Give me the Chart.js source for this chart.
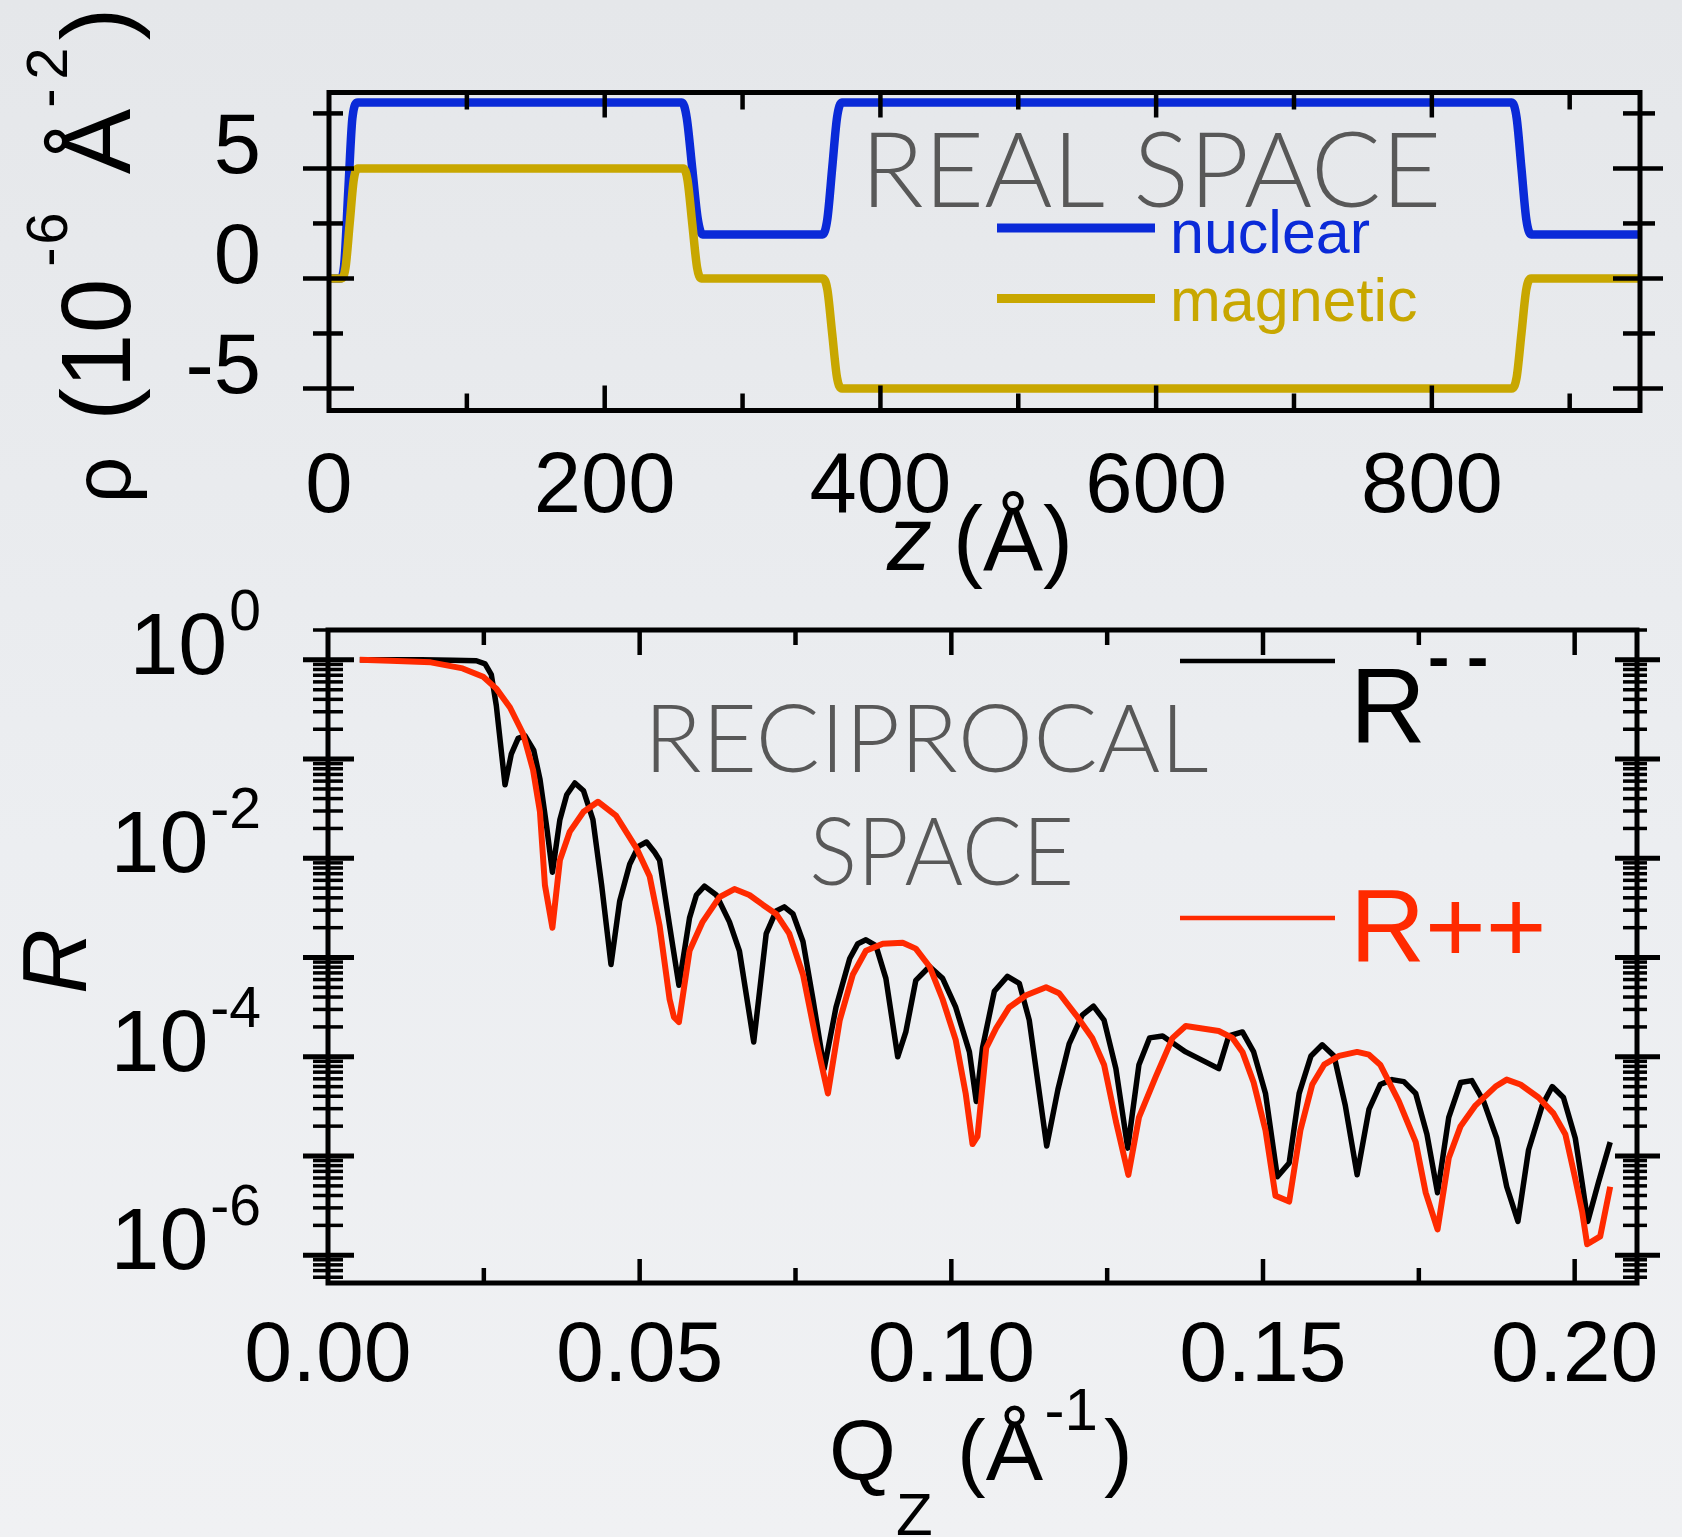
<!DOCTYPE html>
<html><head><meta charset="utf-8">
<script src="https://cdn.jsdelivr.net/npm/chart.js@4.4.1/dist/chart.umd.min.js"></script>
<style>
html,body{margin:0;padding:0;}
body{width:1682px;height:1537px;overflow:hidden;position:relative;
 background:linear-gradient(180deg,#e5e7ea 0%,#eceef1 55%,#f0f1f3 100%);}
canvas{position:absolute;left:0;top:0;}
</style></head><body>
<canvas id="c1" width="1682" height="1537"></canvas>
<canvas id="c2" width="1682" height="1537"></canvas>
<script>
// ---------- Real space (top panel) ----------
const zNuclear   = [0, 8, 11, 14, 17, 21, 256, 259.5, 263.5, 267.5, 271, 358, 361.5, 365, 368.5, 372, 858, 861.5, 865, 868.5, 872, 951];
const rhoNuclear = [0, 0, 0.6, 4, 7.3, 8, 8, 7.3, 5, 2.7, 2, 2, 2.7, 5, 7.3, 8, 8, 7.3, 5, 2.7, 2, 2];
const zMagnetic   = [0, 9, 12, 15, 18, 21, 257, 260, 263.5, 267, 270, 358, 361.5, 365, 368.5, 372, 858, 861.5, 865, 868.5, 872, 951];
const rhoMagnetic = [0, 0, 0.5, 2.5, 4.5, 5, 5, 4.5, 2.5, 0.5, 0, 0, -0.5, -2.5, -4.5, -5, -5, -4.5, -2.5, -0.5, 0, 0];
const zTicks = [0, 200, 400, 600, 800];
const zTickLabels = ['0', '200', '400', '600', '800'];
const zMinorTicks = [100, 300, 500, 700, 900];
const rhoTicks = [5, 0, -5];
const rhoTickLabels = ['5', '0', '-5'];
const rhoMinorTicks = [7.5, 2.5, -2.5];

// ---------- Reciprocal space (bottom panel) ----------
const qMinus = [0.0051,0.010,0.015,0.020,0.0238,0.0252,0.0262,0.0270,0.0284,0.0294,
 0.0305,0.0316,0.0330,0.0340,0.0351,0.0360,0.0372,0.0383,0.0396,0.0410,
 0.0425,0.0439,0.0454,0.0468,0.0484,0.0498,0.0511,0.0524,0.0532,0.0548,
 0.0563,0.0580,0.0591,0.0604,0.0623,0.0644,0.0660,0.0683,0.0703,0.0719,
 0.0732,0.0746,0.0762,0.0778,0.0796,0.0815,0.0837,0.0850,0.0863,0.0879,
 0.0895,0.0914,0.0927,0.0943,0.0965,0.0986,0.1007,0.1029,0.1040,0.1050,
 0.1069,0.1090,0.1109,0.1125,0.1153,0.1171,0.1189,0.1210,0.1228,0.1245,
 0.1264,0.1283,0.1301,0.1318,0.1339,0.1376,0.1429,0.1445,0.1467,0.1485,
 0.1504,0.1523,0.1542,0.1558,0.1577,0.1595,0.1614,0.1632,0.1651,0.1670,
 0.1688,0.1707,0.1726,0.1745,0.1763,0.1780,0.1798,0.1817,0.1835,0.1854,
 0.1875,0.1891,0.1909,0.1926,0.1948,0.1964,0.1982,0.2001,0.2012,0.2021,
 0.2038,0.2057];
const rMinus = [1.0,1.0,1.0,0.99,0.98,0.91,0.71,0.347,0.055,0.112,
 0.162,0.172,0.123,0.063,0.0204,0.00724,0.0245,0.0437,0.0575,0.0479,
 0.0245,0.00537,8.51e-4,3.72e-3,8.7e-3,1.32e-2,1.46e-2,1.15e-2,9.55e-3,2.09e-3,
 5.25e-4,2.51e-3,4.27e-3,5.25e-3,4.27e-3,2.29e-3,1.17e-3,1.41e-4,1.74e-3,2.95e-3,
 3.24e-3,2.75e-3,1.45e-3,3.8e-4,7.59e-5,3.16e-4,9.77e-4,1.38e-3,1.51e-3,1.32e-3,
 6.17e-4,1.0e-4,1.78e-4,5.89e-4,8.13e-4,6.17e-4,3.16e-4,1.12e-4,3.55e-5,1.23e-4,
 4.57e-4,6.46e-4,5.5e-4,2.34e-4,1.26e-5,4.68e-5,1.35e-4,2.63e-4,3.24e-4,2.34e-4,
 7.59e-5,1.2e-5,8.32e-5,1.55e-4,1.62e-4,1.12e-4,7.59e-5,1.62e-4,1.78e-4,1.12e-4,
 4.27e-5,6.17e-6,8.51e-6,4.27e-5,1.02e-4,1.32e-4,1.02e-4,3.24e-5,6.46e-6,2.95e-5,
 5.25e-5,5.89e-5,5.62e-5,4.27e-5,1.66e-5,4.27e-6,2.45e-5,5.5e-5,5.75e-5,3.55e-5,
 1.51e-5,4.9e-6,2.19e-6,1.15e-5,3.24e-5,5.01e-5,3.89e-5,1.51e-5,5.37e-6,2.19e-6,
 5.37e-6,1.38e-5];
const qPlus = [0.0051,0.0100,0.0165,0.0216,0.0249,0.0270,0.0292,0.0313,0.0329,0.0340,
 0.0348,0.0360,0.0372,0.0388,0.0410,0.0433,0.0462,0.0495,0.0516,0.0532,
 0.0548,0.0555,0.0563,0.0580,0.0601,0.0628,0.0652,0.0676,0.0698,0.0719,
 0.0740,0.0762,0.0783,0.0802,0.0821,0.0842,0.0863,0.0890,0.0922,0.0943,
 0.0965,0.0986,0.1007,0.1023,0.1034,0.1042,0.1056,0.1072,0.1093,0.1120,
 0.1152,0.1173,0.1200,0.1226,0.1245,0.1264,0.1284,0.1301,0.1328,0.1355,
 0.1376,0.1429,0.1451,0.1467,0.1485,0.1504,0.1520,0.1542,0.1560,0.1579,
 0.1598,0.1622,0.1651,0.1670,0.1688,0.1718,0.1745,0.1761,0.1780,0.1798,
 0.1817,0.1841,0.1873,0.1891,0.1913,0.1942,0.1966,0.1985,0.2001,0.2012,
 0.2020,0.2041,0.2057];
const rPlus = [1.0,0.977,0.944,0.82,0.676,0.513,0.331,0.18,0.0776,0.0295,
 5.37e-3,2.0e-3,9.55e-3,1.86e-2,2.95e-2,3.72e-2,2.69e-2,1.26e-2,6.6e-3,2.09e-3,
 3.8e-4,2.51e-4,2.24e-4,1.17e-3,2.29e-3,4.07e-3,4.9e-3,4.27e-3,3.39e-3,2.75e-3,
 1.74e-3,6.76e-4,1.48e-4,4.27e-5,2.34e-4,6.76e-4,1.17e-3,1.38e-3,1.41e-3,1.23e-3,
 8.13e-4,3.8e-4,1.48e-4,4.27e-5,1.32e-5,1.58e-5,1.23e-4,1.95e-4,3.16e-4,4.17e-4,
 5.01e-4,4.37e-4,2.63e-4,1.55e-4,8.32e-5,2.24e-5,6.46e-6,2.45e-5,6.31e-5,1.55e-4,
 2.04e-4,1.82e-4,1.55e-4,1.12e-4,5.5e-5,1.82e-5,3.98e-6,3.47e-6,1.82e-5,5.25e-5,
 8.32e-5,1.02e-4,1.12e-4,1.05e-4,8.32e-5,3.55e-5,1.38e-5,4.27e-6,1.82e-6,9.55e-6,
 2.0e-5,3.24e-5,5.01e-5,5.89e-5,5.25e-5,3.89e-5,2.69e-5,1.66e-5,5.89e-6,2.75e-6,
 1.29e-6,1.55e-6,4.9e-6];
const qTicks = [0, 0.05, 0.10, 0.15, 0.20];
const qTickLabels = ['0.00', '0.05', '0.10', '0.15', '0.20'];
const qMinorTicks = [0.025, 0.075, 0.125, 0.175];
const rDecadeLabels = [0, -2, -4, -6];

// ---------- styling ----------
const BLUE = '#0a2ad8', GOLD = '#c8a700', RED = '#ff2a00', GRAY = '#585858';
const SANS = '"Liberation Sans", Arial, Helvetica, sans-serif';
const THIN = 'Lato, "Open Sans", sans-serif';

function line(ctx, x1, y1, x2, y2) { ctx.beginPath(); ctx.moveTo(x1, y1); ctx.lineTo(x2, y2); ctx.stroke(); }
function fitText(ctx, text, x0, x1, baseline, font, color) {
  ctx.save();
  ctx.font = font; ctx.textAlign = 'left'; ctx.textBaseline = 'alphabetic';
  const m = ctx.measureText(text);
  const vis = m.actualBoundingBoxLeft + m.actualBoundingBoxRight;
  ctx.translate(x0, baseline);
  ctx.scale((x1 - x0) / vis, 1);
  ctx.fillStyle = color;
  ctx.fillText(text, m.actualBoundingBoxLeft, 0);
  ctx.restore();
}
function txt(ctx, t, x, y, font, color, align) {
  ctx.font = font; ctx.fillStyle = color || '#000'; ctx.textAlign = align || 'left'; ctx.textBaseline = 'alphabetic';
  ctx.fillText(t, x, y);
}

const topDecor = {
  id: 'topDecor',
  afterDraw(chart) {
    const ctx = chart.ctx, a = chart.chartArea, xs = chart.scales.x, ys = chart.scales.y;
    ctx.save();
    ctx.strokeStyle = '#000'; ctx.lineCap = 'butt'; ctx.lineWidth = 4.5;
    zTicks.forEach(v => { if (v === 0) return; const p = xs.getPixelForValue(v);
      line(ctx, p, a.bottom, p, a.bottom - 25); line(ctx, p, a.top, p, a.top + 25); });
    zMinorTicks.forEach(v => { const p = xs.getPixelForValue(v);
      line(ctx, p, a.bottom, p, a.bottom - 17); line(ctx, p, a.top, p, a.top + 17); });
    rhoTicks.forEach(v => { const p = ys.getPixelForValue(v);
      line(ctx, a.left - 26, p, a.left + 25, p); line(ctx, a.right - 27, p, a.right + 23, p); });
    rhoMinorTicks.forEach(v => { const p = ys.getPixelForValue(v);
      line(ctx, a.left - 16, p, a.left + 14, p); line(ctx, a.right - 17, p, a.right + 15, p); });
    ctx.lineWidth = 5;
    ctx.strokeRect(a.left, a.top, a.right - a.left, a.bottom - a.top);

    // tick labels
    zTicks.forEach((v, i) => txt(ctx, zTickLabels[i], xs.getPixelForValue(v), 512, '85px ' + SANS, '#000', 'center'));
    rhoTicks.forEach((v, i) => txt(ctx, rhoTickLabels[i], 261, ys.getPixelForValue(v) + 5, '85px ' + SANS, '#000', 'right'));

    // x title  z (Å)
    txt(ctx, 'z', 887, 570, 'italic 90px ' + SANS);
    txt(ctx, '(Å)', 953, 570, '90px ' + SANS);

    // y title  ρ (10^-6 Å^-2), rotated
    ctx.save();
    ctx.translate(130, 0); ctx.rotate(-Math.PI / 2);
    ctx.textAlign = 'center'; ctx.fillStyle = '#000'; ctx.textBaseline = 'alphabetic';
    const parts = [['ρ', 480, 82, 0], ['(', 404.5, 98, 0], ['1', 361, 98, 0], ['0', 306, 98, 0],
      ['-', 257, 58, -63], ['6', 228.5, 58, -63], ['Å', 141.5, 98, 0], ['-', 98, 58, -63],
      ['2', 63.5, 58, -63], [')', 24, 98, 0]];
    parts.forEach(([t, y, f, v]) => { ctx.font = f + 'px ' + SANS; ctx.fillText(t, -y, v); });
    ctx.restore();

    // legend
    ctx.lineWidth = 9;
    ctx.strokeStyle = BLUE; line(ctx, 997, 228, 1155, 228);
    ctx.strokeStyle = GOLD; line(ctx, 997, 298.5, 1155, 298.5);
    txt(ctx, 'nuclear', 1170, 253, '61px ' + SANS, BLUE);
    txt(ctx, 'magnetic', 1170, 321, '61px ' + SANS, GOLD);

    fitText(ctx, 'REAL SPACE', 870.5, 1436.5, 207, '300 105px ' + THIN, GRAY);
    ctx.restore();
  }
};

const bottomDecor = {
  id: 'bottomDecor',
  afterDraw(chart) {
    const ctx = chart.ctx, a = chart.chartArea, xs = chart.scales.x, ys = chart.scales.y;
    ctx.save();
    ctx.strokeStyle = '#000'; ctx.lineCap = 'butt';
    // x ticks
    ctx.lineWidth = 4.5;
    qTicks.forEach(v => { if (v === 0) return; const p = xs.getPixelForValue(v);
      line(ctx, p, a.bottom, p, a.bottom - 24); line(ctx, p, a.top, p, a.top + 25); });
    qMinorTicks.forEach(v => { const p = xs.getPixelForValue(v);
      line(ctx, p, a.bottom, p, a.bottom - 15); line(ctx, p, a.top, p, a.top + 15); });
    // log y ticks
    for (let n = -7; n <= 0; n++) {
      for (let k = 1; k <= 9; k++) {
        const v = k * Math.pow(10, n);
        if (v < ys.min || v > ys.max) continue;
        const p = ys.getPixelForValue(v);
        if (k === 1) {
          ctx.lineWidth = 5;
          line(ctx, a.left - 25, p, a.left + 26, p); line(ctx, a.right - 22, p, a.right + 23, p);
        } else {
          ctx.lineWidth = 3.5;
          line(ctx, a.left - 15, p, a.left + 15, p); line(ctx, a.right - 14, p, a.right + 10, p);
        }
      }
    }
    ctx.lineWidth = 5;
    ctx.strokeRect(a.left, a.top, a.right - a.left, a.bottom - a.top);

    // x tick labels
    qTicks.forEach((v, i) => txt(ctx, qTickLabels[i], xs.getPixelForValue(v), 1381, '86px ' + SANS, '#000', 'center'));
    // y tick labels 10^n
    rDecadeLabels.forEach(e => {
      const p = ys.getPixelForValue(Math.pow(10, e));
      const sup = String(e);
      ctx.font = '57px ' + SANS;
      const sw = ctx.measureText(sup).width;
      txt(ctx, sup, 261, p - 30, '57px ' + SANS, '#000', 'right');
      txt(ctx, '10', 261 - sw - 2, p + 14, '88px ' + SANS, '#000', 'right');
    });

    // x title Q_Z (Å^-1)
    txt(ctx, 'Q', 829, 1480, '86px ' + SANS);
    txt(ctx, 'Z', 896, 1535, '60px ' + SANS);
    txt(ctx, '(Å', 957, 1480, '86px ' + SANS);
    txt(ctx, '-1', 1044.5, 1430, '60px ' + SANS);
    txt(ctx, ')', 1104, 1480, '86px ' + SANS);

    // y title R
    ctx.save();
    ctx.translate(86, 961.5); ctx.rotate(-Math.PI / 2);
    txt(ctx, 'R', 0, 0, 'italic 90px ' + SANS, '#000', 'center');
    ctx.restore();

    // legend
    ctx.lineWidth = 4.5;
    ctx.strokeStyle = '#000'; line(ctx, 1180, 661, 1335, 661);
    ctx.strokeStyle = RED; line(ctx, 1180, 918, 1335, 918);
    txt(ctx, 'R', 1350, 742, '105px ' + SANS, '#000');
    txt(ctx, '- -', 1428, 679, 'bold 64px ' + SANS, '#000');
    txt(ctx, 'R++', 1350, 962, '104px ' + SANS, RED);

    fitText(ctx, 'RECIPROCAL', 653, 1208, 772, '300 94px ' + THIN, GRAY);
    fitText(ctx, 'SPACE', 813, 1070, 885, '300 94px ' + THIN, GRAY);
    ctx.restore();
  }
};

const base = {
  responsive: false, animation: false, events: [],
  plugins: { legend: { display: false }, tooltip: { enabled: false } },
  elements: { point: { radius: 0 } }
};

async function start() {
  try {
    await Promise.all([
      document.fonts.load('300 100px Lato'), document.fonts.load('85px "Liberation Sans"'),
      document.fonts.load('italic 85px "Liberation Sans"'), document.fonts.load('bold 85px "Liberation Sans"')
    ]);
  } catch (e) {}

  new Chart(document.getElementById('c1'), {
    type: 'line',
    data: { datasets: [
      { label: 'magnetic', data: zMagnetic.map((z, i) => ({ x: z, y: rhoMagnetic[i] })),
        borderColor: GOLD, borderWidth: 8.5, cubicInterpolationMode: 'monotone', pointRadius: 0, borderJoinStyle: 'round' },
      { label: 'nuclear', data: zNuclear.map((z, i) => ({ x: z, y: rhoNuclear[i] })),
        borderColor: BLUE, borderWidth: 8.5, cubicInterpolationMode: 'monotone', pointRadius: 0, borderJoinStyle: 'round' }
    ] },
    options: Object.assign({}, base, {
      layout: { padding: { left: 329, top: 92.5, right: 1682 - 1640, bottom: 1537 - 410.5 } },
      scales: {
        x: { type: 'linear', display: false, min: 0, max: 951 },
        y: { type: 'linear', display: false, min: -6.0, max: 8.45 }
      }
    }),
    plugins: [topDecor]
  });

  new Chart(document.getElementById('c2'), {
    type: 'line',
    data: { datasets: [
      { label: 'R++', data: qPlus.map((q, i) => ({ x: q, y: rPlus[i] })),
        borderColor: RED, borderWidth: 6, tension: 0, pointRadius: 0, borderJoinStyle: 'round' },
      { label: 'R--', data: qMinus.map((q, i) => ({ x: q, y: rMinus[i] })),
        borderColor: '#000', borderWidth: 5.5, tension: 0, pointRadius: 0, borderJoinStyle: 'round' }
    ] },
    options: Object.assign({}, base, {
      layout: { padding: { left: 328, top: 630, right: 1682 - 1637, bottom: 1537 - 1283 } },
      scales: {
        x: { type: 'linear', display: false, min: 0, max: 0.21 },
        y: { type: 'logarithmic', display: false, min: 5.25e-7, max: 2.0 }
      }
    }),
    plugins: [bottomDecor]
  });
}
start();
</script>
</body></html>
